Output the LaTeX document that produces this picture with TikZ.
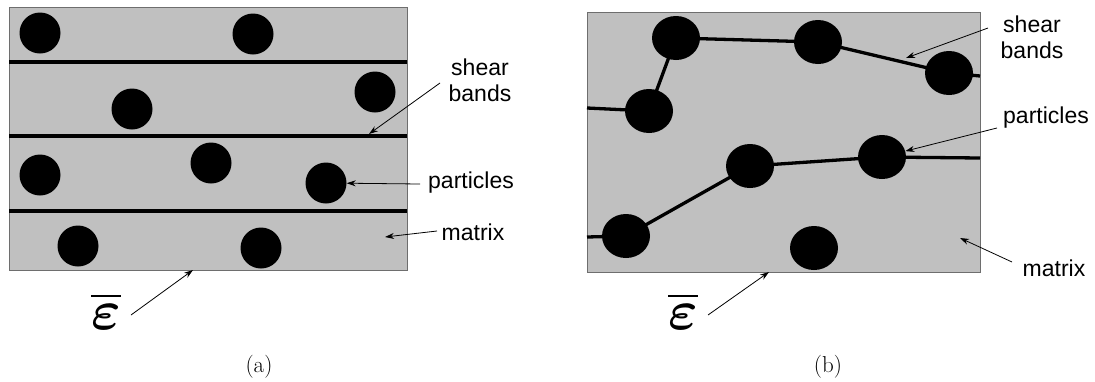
\documentclass[tikz,border=0pt]{standalone}
\usepackage{amsmath}
\usepackage{graphicx}
\usepackage{fontspec}
\setsansfont{Liberation Sans}
\usetikzlibrary{arrows.meta,shapes.geometric}
\definecolor{matrixgray}{RGB}{192,192,192}
\definecolor{edgegray}{RGB}{110,110,110}
\begin{document}
\begin{tikzpicture}[x=1pt,y=-1pt,
  panel/.style={fill=matrixgray,draw=edgegray,line width=1pt,inner sep=0pt,outer sep=0pt,anchor=north west},
  part/.style={circle,fill=black,inner sep=0pt,minimum size=41pt},
  partb/.style={ellipse,fill=black,inner sep=0pt,minimum width=48pt,minimum height=44pt},
  band/.style={line width=3.3pt,black,shorten <=-2pt,shorten >=-2pt},
  edgeband/.style={line width=3.3pt,black,shorten >=-2pt},
  arr/.style={line width=0.8pt,-{Stealth[length=9pt,width=6pt]}},
  lbl/.style={font=\sffamily\fontsize{23}{26}\selectfont,align=center,inner sep=0pt},
  eps/.style={inner sep=0pt},
  capt/.style={font=\fontsize{23}{26}\selectfont,inner sep=0pt}]
\useasboundingbox (0,0) rectangle (1095,381);

% ---------------- panel (a)
\node[panel,minimum width=398pt,minimum height=263pt] (boxA) at (9,7) {};
\coordinate (a1l) at (9,62);  \coordinate (a1r) at (407,62);
\coordinate (a2l) at (9,136); \coordinate (a2r) at (407,136);
\coordinate (a3l) at (9,211); \coordinate (a3r) at (407,211);
\draw[line width=3.3pt] (a1l) -- (a1r);
\draw[line width=3.3pt] (a2l) -- (a2r);
\draw[line width=3.3pt] (a3l) -- (a3r);
\node[part] (pa1) at (40,33) {};
\node[part] (pa2) at (253,34) {};
\node[part] (pa3) at (375,92) {};
\node[part] (pa4) at (132,109) {};
\node[part] (pa5) at (211,163) {};
\node[part] (pa6) at (40,175) {};
\node[part] (pa7) at (326,183) {};
\node[part] (pa8) at (78,246) {};
\node[part] (pa9) at (261,248) {};

\node[lbl] (shA) at (480,80) {shear\\bands};
\node[lbl] (paA) at (471,183) {particles};
\node[lbl] (maA) at (473,232) {matrix};
\node[eps] (epA) at (106,311) {\scalebox{5.6}{$\overline{\boldsymbol{\varepsilon}}$}};
\coordinate (shAs) at (440,83);  \coordinate (shAe) at (369,134);
\coordinate (paAs) at (420,184);
\coordinate (maAs) at (437,231); \coordinate (maAe) at (385,237);
\coordinate (epAs) at (131,315); \coordinate (epAe) at (193,270);
\draw[arr] (shAs) -- (shAe);
\draw[arr] (paAs) -- (pa7);
\draw[arr] (maAs) -- (maAe);
\draw[arr] (epAs) -- (epAe);
\node[capt] (capA) at (259,367) {(a)};

% ---------------- panel (b)
\node[panel,minimum width=393pt,minimum height=260pt] (boxB) at (587,12) {};
\node[partb] (pb1) at (676,38) {};
\node[partb] (pb2) at (649,111) {};
\node[partb] (pb3) at (818,42) {};
\node[partb] (pb4) at (949,73) {};
\node[partb] (pb5) at (750,166) {};
\node[partb] (pb6) at (882,157) {};
\node[partb] (pb7) at (626,236) {};
\node[partb] (pb8) at (814,248) {};
\coordinate (bl1) at (587,108); \coordinate (br1) at (980,76);
\coordinate (bl2) at (587,237); \coordinate (br2) at (980,158);
\draw[edgeband] (bl1) -- (pb2);
\draw[band] (pb2) -- (pb1);
\draw[band] (pb1) -- (pb3);
\draw[band] (pb3) -- (pb4);
\draw[band,shorten >=0pt] (pb4) -- (br1);
\draw[edgeband] (bl2) -- (pb7);
\draw[band] (pb7) -- (pb5);
\draw[band] (pb5) -- (pb6);
\draw[band,shorten >=0pt] (pb6) -- (br2);

\node[lbl] (shB) at (1032,37) {shear\\bands};
\node[lbl] (paB) at (1046,118) {particles};
\node[lbl] (maB) at (1054,268) {matrix};
\node[eps] (epB) at (683,311) {\scalebox{5.6}{$\overline{\boldsymbol{\varepsilon}}$}};
\coordinate (shBs) at (988,28);  \coordinate (shBe) at (906,58);
\coordinate (paBs) at (997,128);
\coordinate (maBs) at (1012,262); \coordinate (maBe) at (960,238);
\coordinate (epBs) at (708,315); \coordinate (epBe) at (769,272);
\draw[arr] (shBs) -- (shBe);
\draw[arr] (paBs) -- (pb6);
\draw[arr] (maBs) -- (maBe);
\draw[arr] (epBs) -- (epBe);
\node[capt] (capB) at (828,367) {(b)};
\end{tikzpicture}
\end{document}
